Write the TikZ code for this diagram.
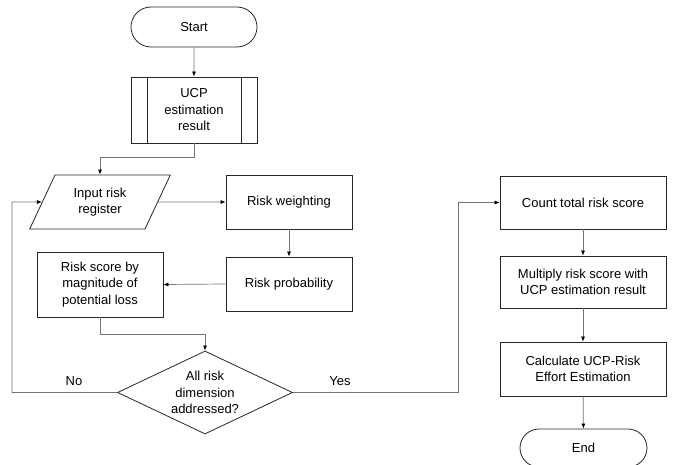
\documentclass[tikz,border=0pt]{standalone}
\usepackage{fontspec}
\setmainfont{Liberation Sans}
\usetikzlibrary{shapes.geometric,shapes.misc,arrows.meta}
\begin{document}
\begin{tikzpicture}[x=1pt,y=-1pt,
  every node/.style={font=\fontsize{13}{16.5}\selectfont, align=center, inner sep=0pt},
  box/.style={draw=black!85, line width=0.8pt, minimum width=126pt, minimum height=54pt},
  term/.style={draw=black!85, line width=0.8pt, rounded rectangle, minimum width=126pt, minimum height=40pt},
  conn/.style={draw=black!55, line width=0.7pt, -{Latex[length=5pt,width=4pt,black]}},
  lbl/.style={font=\fontsize{13}{16}\selectfont}]
\useasboundingbox (0,0) rectangle (674,465);
\node[term] (start) at (194,27) {Start};
\node[box, minimum height=66pt] (ucp) at (194,110) {UCP\\estimation\\result};
\draw[black!85, line width=0.8pt] (147,77) -- (147,143) (241,77) -- (241,143);
\node[draw=black!85, line width=0.8pt, trapezium, trapezium left angle=62.6, trapezium right angle=117.4,
  minimum height=54pt, trapezium stretches=true, minimum width=141pt] (inp) at (100,202) {Input risk\\register};
\node[box] (rw) at (289,202) {Risk weighting};
\node[box] (rp) at (289,284) {Risk probability};
\node[box, minimum height=65pt] (rs) at (100,284.5) {Risk score by\\magnitude of\\potential loss};
\node[draw=black!85, line width=0.8pt, diamond, aspect=2.1, minimum width=175pt, minimum height=83pt] (dec) at (205,392.5) {};
\node at (205,392.5) {All risk\\dimension\\addressed?};
\node[box, minimum width=166pt, minimum height=53pt] (cnt) at (583,202.5) {Count total risk score};
\node[box, minimum width=166pt, minimum height=52pt] (mul) at (583,282) {Multiply risk score with\\UCP estimation result};
\node[box, minimum width=166pt, minimum height=54pt] (calc) at (583,369) {Calculate UCP-Risk\\Effort Estimation};
\node[term, minimum width=127pt, minimum height=38pt] (end) at (583.5,448) {End};
\coordinate (lx) at (12,202);
\node[lbl] (no) at (74,381) {No};
\node[lbl] (yes) at (340,381) {Yes};
\draw[conn] (start) -- (ucp);
\draw[conn] (ucp.south) -- ++(0,14) -| (inp.north);
\draw[conn] (inp.east) -- (rw.west);
\draw[conn] (rw) -- (rp);
\draw[conn] (rp.west) -- (rs.east);
\draw[conn] (rs.south) -- ++(0,17) -| (dec.north);
\draw[conn] (dec.west) -| (lx) -- (inp.west);
\draw[conn] (dec.east) -| (458,202.5) -- (cnt.west);
\draw[conn] (cnt) -- (mul);
\draw[conn] (mul) -- (calc);
\draw[conn] (calc) -- (end);
\end{tikzpicture}
\end{document}
